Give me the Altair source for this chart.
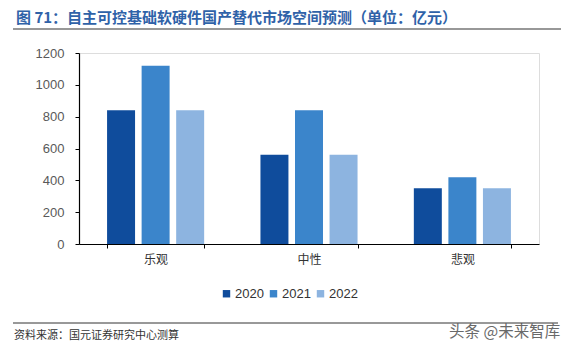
import altair as alt
import pandas as pd

scenarios = ["乐观", "中性", "悲观"]
years = ["2020", "2021", "2022"]
v2020 = [840, 560, 350]
v2021 = [1120, 840, 420]
v2022 = [840, 560, 350]
colors = ["#0F4C9C", "#3B85CB", "#8DB4E0"]
y_ticks = [0, 200, 400, 600, 800, 1000, 1200]

title_text = "图 71：自主可控基础软硬件国产替代市场空间预测（单位：亿元）"
source_text = "资料来源：国元证券研究中心测算"
mark_text = "头条 @未来智库"

rows = []
for i, s in enumerate(scenarios):
    for y, vals in zip(years, [v2020, v2021, v2022]):
        rows.append({"scenario": s, "year": y, "value": vals[i]})
df = pd.DataFrame(rows)

FONT = "Noto Sans CJK SC"
W, H = 460, 191
L, T = 79, 53

bars = alt.Chart(df).mark_bar().encode(
    x=alt.X("scenario:N", sort=scenarios, title=None,
            scale=alt.Scale(paddingInner=0.367, paddingOuter=0.183),
            axis=alt.Axis(labelAngle=0, labelFont=FONT, labelFontSize=12,
                          labelColor="#333333", labelPadding=6, tickSize=4,
                          tickColor="#000000", tickBand="extent",
                          domainColor="#000000", domainWidth=1.2)),
    xOffset=alt.XOffset("year:N", sort=years,
                        scale=alt.Scale(paddingInner=0.19, paddingOuter=0)),
    y=alt.Y("value:Q", title=None,
            scale=alt.Scale(domain=[0, 1200], nice=False),
            axis=alt.Axis(values=y_ticks, format="d", grid=False,
                          labelFont="Liberation Sans",
                          labelFontSize=13, labelColor="#595959", labelPadding=11,
                          tickSize=4, tickColor="#000000", domainColor="#000000",
                          domainWidth=1.2)),
    color=alt.Color("year:N", sort=years,
                    scale=alt.Scale(domain=years, range=colors),
                    legend=alt.Legend(title=None, orient="none", direction="horizontal",
                                      legendX=141, legendY=234, symbolType="square",
                                      symbolSize=55, symbolStrokeWidth=0,
                                      labelFont="Liberation Sans", labelFontSize=13,
                                      labelColor="#333333", labelOffset=2,
                                      columnPadding=3)),
)

one = pd.DataFrame({"k": [0]})
base = alt.Chart(one)

title = base.mark_text(align="left", baseline="middle", font=FONT, fontSize=15,
                       fontWeight="bold", color="#2F62A8").encode(
    x=alt.value(16 - L), y=alt.value(18 - T), text=alt.value(title_text))
rule_top = base.mark_rule(color="#333333", strokeWidth=1.2).encode(
    x=alt.value(13 - L), x2=alt.value(561 - L), y=alt.value(29 - T))
rule_bot = base.mark_rule(color="#333333", strokeWidth=1).encode(
    x=alt.value(13 - L), x2=alt.value(558 - L), y=alt.value(323 - T))
source = base.mark_text(align="left", baseline="middle", font=FONT, fontSize=11,
                        color="#333333").encode(
    x=alt.value(14 - L), y=alt.value(336 - T), text=alt.value(source_text))
wm = base.mark_text(align="left", baseline="middle", font=FONT, fontSize=15.5,
                    color="#444444", opacity=0.8).encode(
    x=alt.value(449 - L), y=alt.value(332 - T), text=alt.value(mark_text))

chart = alt.layer(bars, title, rule_top, rule_bot, source, wm).properties(
    width=W, height=H,
    autosize=alt.AutoSizeParams(type="none"),
    padding={"left": L, "top": T, "right": 565 - L - W, "bottom": 354 - T - H},
).configure_view(stroke=None).configure(background="white")

chart.save("out.html", embed_options={"renderer": "svg", "actions": False})
